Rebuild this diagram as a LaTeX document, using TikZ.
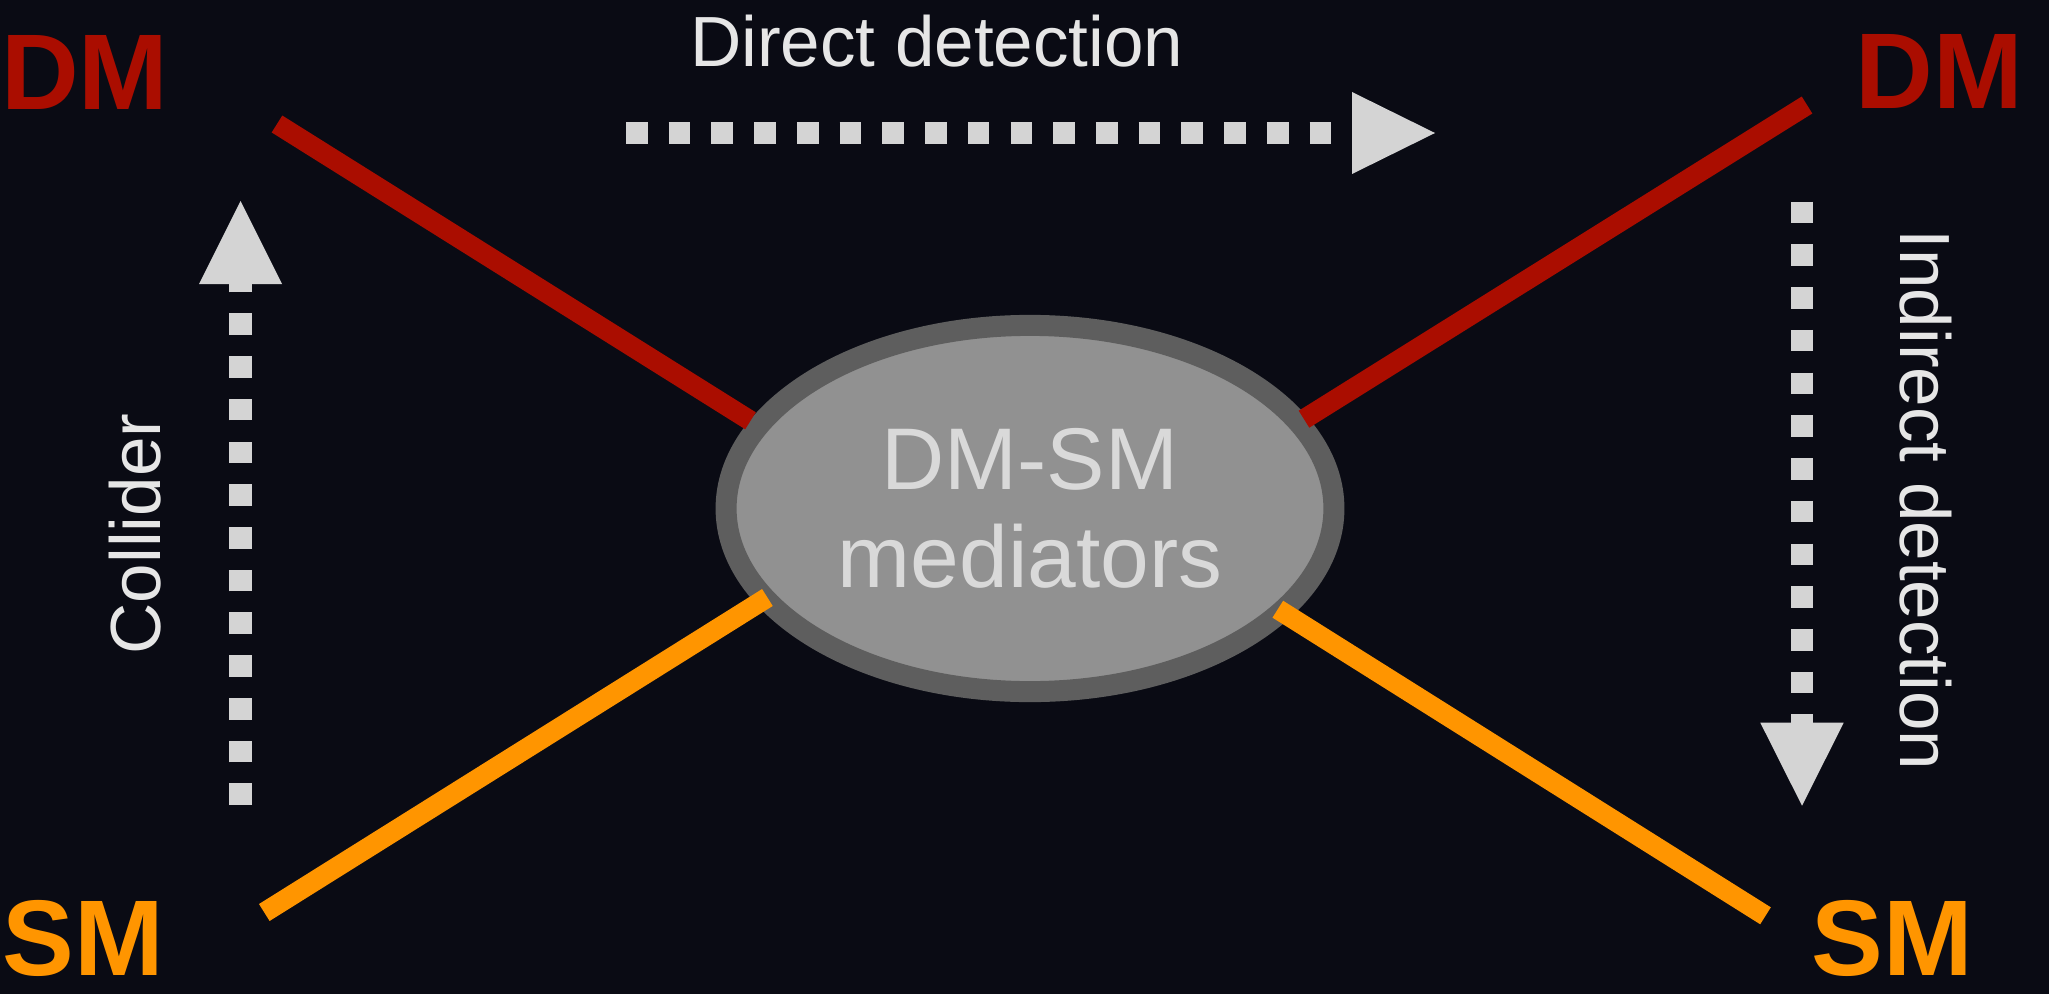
\documentclass[tikz,border=0pt]{standalone}
\usepackage{fontspec}
\setmainfont{Liberation Sans}
\usetikzlibrary{shapes.geometric,calc}
\definecolor{bgc}{HTML}{0A0B14}
\definecolor{dmred}{HTML}{AA0D00}
\definecolor{smorange}{HTML}{FF9500}
\definecolor{arrowgray}{HTML}{D4D4D4}
\definecolor{labelgray}{HTML}{E6E6E6}
\definecolor{medborder}{HTML}{5E5E5E}
\definecolor{medfill}{HTML}{919191}
\definecolor{medtext}{HTML}{D9D9D9}
\tikzset{
  big/.style={font=\fontsize{30.6}{36}\selectfont\bfseries, inner sep=0pt, anchor=base},
  lab/.style={font=\fontsize{20.2}{24}\selectfont, text=labelgray, inner sep=0pt, anchor=base},
  leg/.style={line width=0.2cm},
  dotline/.style={draw=arrowgray, line width=0.22cm, dash pattern=on 0.216cm off 0.211cm},
  headtri/.style={fill=arrowgray},
  medstyle/.style={ellipse, draw=medborder, fill=medfill, line width=0.21cm,
    minimum width=6.075cm, minimum height=3.66cm, inner sep=0pt, text=medtext,
    align=center, font=\fontsize{24.9}{27.9}\selectfont},
}
\begin{document}
\begin{tikzpicture}[x=0.01cm,y=-0.01cm]
\fill[bgc] (0,0) rectangle (2049,994);
\useasboundingbox (0,0) rectangle (2049,994);

% central blob
\node[medstyle] (med) at (1030,508.5) {DM-SM\\mediators};

% particle labels
\node[big, text=dmred] (dmL) at (84.7,110) {DM};
\node[big, text=dmred] (dmR) at (1939.5,109) {DM};
\node[big, text=smorange] (smL) at (83.3,975) {SM};
\node[big, text=smorange] (smR) at (1892.5,975) {SM};

% legs
\coordinate (dmLend) at (277,124);
\coordinate (dmRend) at (1807,105);
\coordinate (smLend) at (264.3,912.5);
\coordinate (smRend) at (1765.5,915.8);
\draw[leg, dmred] (dmLend) -- ($(med.center)+(-279.5,-87.7)$);
\draw[leg, dmred] (dmRend) -- ($(med.center)+(274,-89.3)$);
\draw[leg, smorange] (smLend) -- ($(med.center)+(-262.6,89)$);
\draw[leg, smorange] (smRend) -- ($(med.center)+(247.8,100.7)$);

% direct detection arrow
\coordinate (ddS) at (626,133);
\coordinate (ddE) at (1352,133);
\draw[dotline] (ddS) -- (ddE);
\fill[headtri] (ddE) ++(0,-41) -- ++(83,41) -- ++(-83,41) -- cycle;
\node[lab] (ddT) at (936.8,66.7) {Direct detection};

% collider arrow
\coordinate (colS) at (240.5,805);
\coordinate (colE) at (240.5,284);
\draw[dotline] (colS) -- (colE);
\fill[headtri] (colE) ++(-41.5,0) -- ++(41.5,-83) -- ++(41.5,83) -- cycle;
\node[lab, rotate=90] (colT) at (160.5,534) {Collider};

% indirect detection arrow
\coordinate (indS) at (1802,201.7);
\coordinate (indE) at (1802,722.7);
\draw[dotline] (indS) -- (indE);
\fill[headtri] (indE) ++(-41.7,0) -- ++(41.7,83) -- ++(41.7,-83) -- cycle;
\node[lab, rotate=-90] (indT) at (1900,500) {Indirect detection};
\end{tikzpicture}
\end{document}
